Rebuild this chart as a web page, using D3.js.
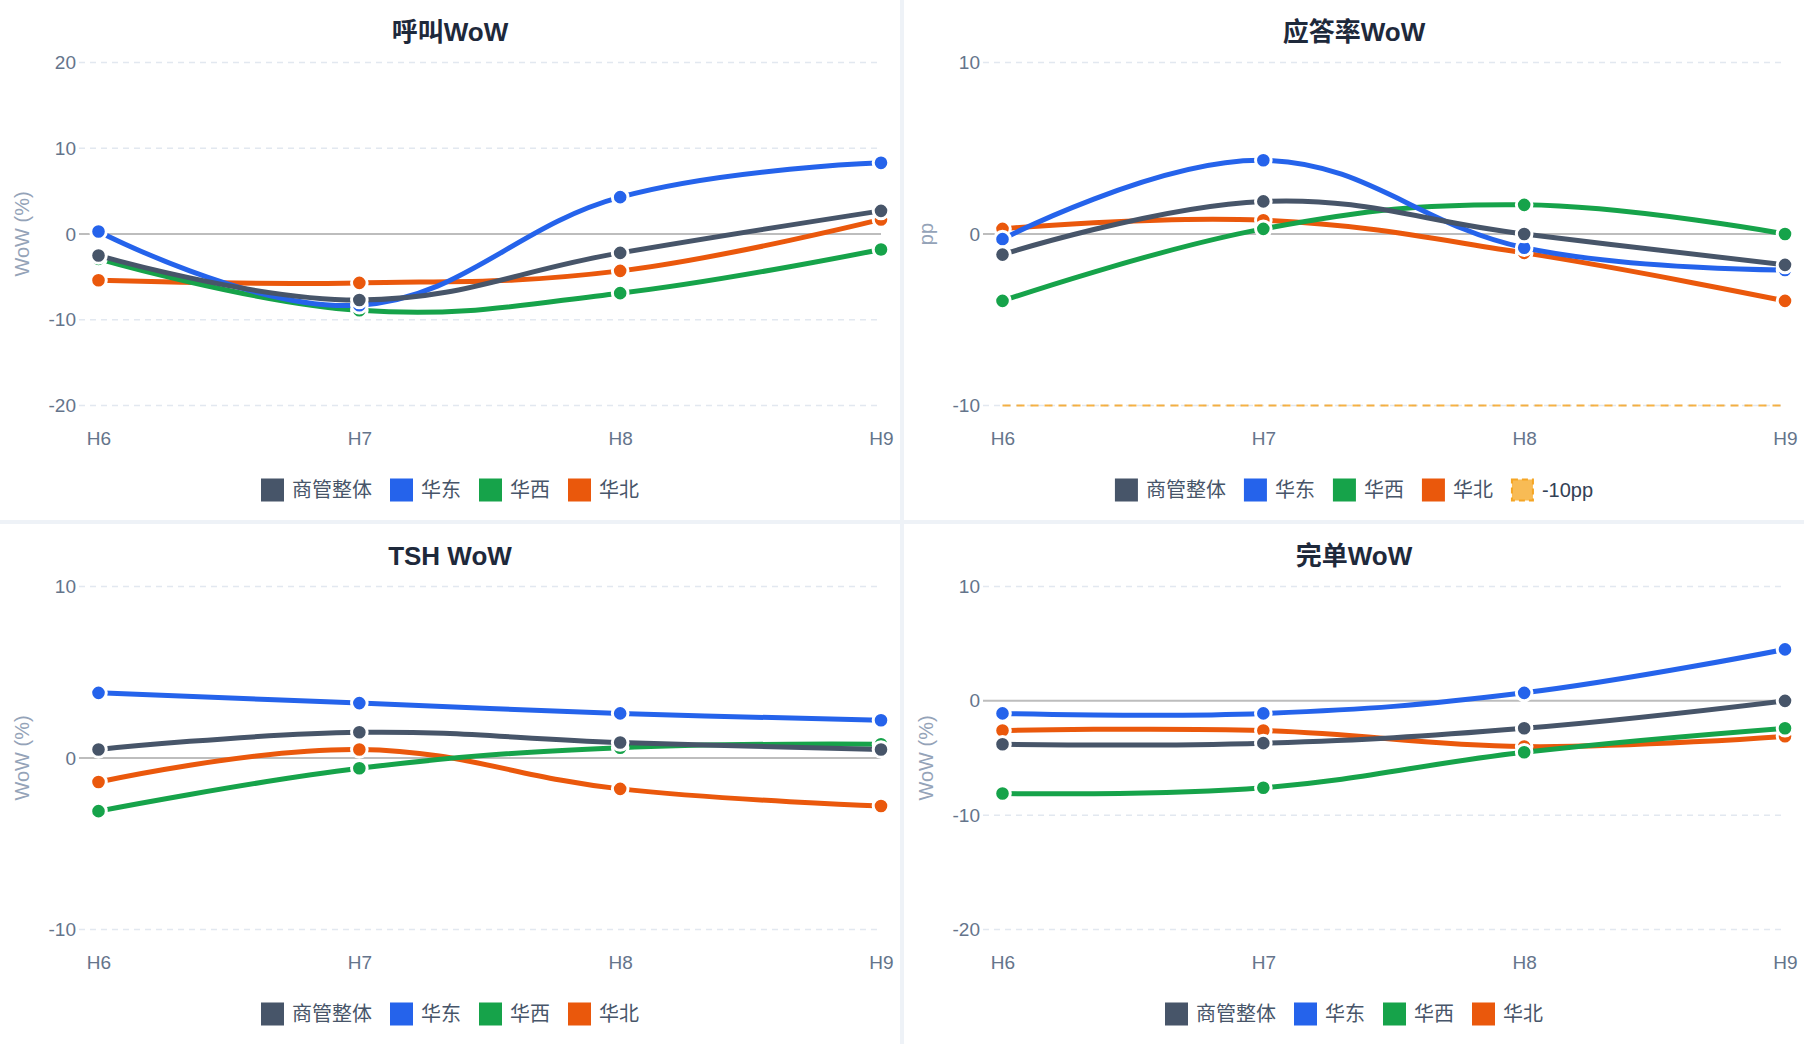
<!doctype html>
<html lang="zh">
<head>
<meta charset="utf-8">
<title>WoW dashboard</title>
<script src="https://d3js.org/d3.v7.min.js"></script>
<style>
  html, body { margin: 0; padding: 0; background: #eef2f7; }
  svg { display: block; }
  text { font-family: "Liberation Sans", Arial, "Noto Sans CJK SC", sans-serif; }
</style>
</head>
<body>
<div id="chart"></div>
<script>
// categories and series
var categories = ["H6", "H7", "H8", "H9"];
var seriesNames = ["商管整体", "华东", "华西", "华北"];

// 呼叫WoW (%)
var callOverall = [-2.5, -7.7, -2.2, 2.7];
var callEast    = [0.3, -8.3, 4.3, 8.3];
var callWest    = [-2.9, -8.9, -6.9, -1.8];
var callNorth   = [-5.4, -5.7, -4.3, 1.7];

// 应答率WoW (pp)
var answerOverall = [-1.2, 1.9, 0, -1.8];
var answerEast    = [-0.3, 4.3, -0.8, -2.1];
var answerWest    = [-3.9, 0.3, 1.7, 0];
var answerNorth   = [0.3, 0.8, -1.1, -3.9];
var answerThreshold = -10;

// TSH WoW (%)
var tshOverall = [0.5, 1.5, 0.9, 0.5];
var tshEast    = [3.8, 3.2, 2.6, 2.2];
var tshWest    = [-3.1, -0.6, 0.6, 0.8];
var tshNorth   = [-1.4, 0.5, -1.8, -2.8];

// 完单WoW (%)
var doneOverall = [-3.8, -3.7, -2.4, 0];
var doneEast    = [-1.1, -1.1, 0.7, 4.5];
var doneWest    = [-8.1, -7.6, -4.5, -2.4];
var doneNorth   = [-2.6, -2.6, -4.0, -3.1];

// axis ticks per panel
var callTicks = [-20, -10, 0, 10, 20];
var answerTicks = [-10, 0, 10];
var tshTicks = [-10, 0, 10];
var doneTicks = [-20, -10, 0, 10];

var colors = ["#475569", "#2563eb", "#16a34a", "#ea580c"];

var width = 1804, height = 1044;
var panelW = 900, panelH = 520;

var svg = d3.select('#chart').append('svg')
  .attr('width', width).attr('height', height);

svg.append('rect').attr('width', width).attr('height', height).attr('fill', '#eef2f7');

var panels = [
  {x: 0,   y: 0,   title: '呼叫WoW',  yLabel: 'WoW (%)', ticks: callTicks,
   values: [callOverall, callEast, callWest, callNorth]},
  {x: 904, y: 0,   title: '应答率WoW', yLabel: 'pp', ticks: answerTicks,
   values: [answerOverall, answerEast, answerWest, answerNorth], threshold: answerThreshold},
  {x: 0,   y: 524, title: 'TSH WoW',  yLabel: 'WoW (%)', ticks: tshTicks,
   values: [tshOverall, tshEast, tshWest, tshNorth]},
  {x: 904, y: 524, title: '完单WoW',  yLabel: 'WoW (%)', ticks: doneTicks,
   values: [doneOverall, doneEast, doneWest, doneNorth]}
];

// plain hyphen for negatives, like the original
var fmt = function(d) { return String(d); };

panels.forEach(function(p) {
  var g = svg.append('g').attr('transform', 'translate(' + p.x + ',' + p.y + ')');
  g.append('rect').attr('width', panelW).attr('height', panelH).attr('fill', '#fff');

  var x = d3.scalePoint().domain(categories).range([98.5, 881]);
  var y = d3.scaleLinear().domain(d3.extent(p.ticks)).range([405.5, 62.5]);
  var gridLeft = 79, gridRight = 881;

  // title
  g.append('text')
    .attr('x', panelW / 2).attr('y', 32)
    .attr('text-anchor', 'middle').attr('dominant-baseline', 'central')
    .style('font-size', '26px').style('font-weight', 'bold').style('fill', '#1e293b')
    .text(p.title);

  // y axis title
  g.append('text')
    .attr('transform', 'translate(22,' + y(0.5 * (p.ticks[0] + p.ticks[p.ticks.length - 1])) + ') rotate(-90)')
    .attr('text-anchor', 'middle').attr('dominant-baseline', 'central')
    .style('font-size', '20px').style('fill', '#94a3b8')
    .text(p.yLabel);

  // dashed grid
  g.selectAll('.grid').data(p.ticks.filter(function(t) { return t !== 0; }))
    .enter().append('line')
    .attr('x1', gridLeft).attr('x2', gridRight)
    .attr('y1', function(d) { return y(d); }).attr('y2', function(d) { return y(d); })
    .attr('stroke', '#e2e8f0').attr('stroke-width', 1.5).attr('stroke-dasharray', '6,5');

  // zero line
  g.append('line').attr('x1', gridLeft).attr('x2', gridRight).attr('y1', y(0)).attr('y2', y(0))
    .attr('stroke', '#bdbdbd').attr('stroke-width', 2);

  // y axis labels
  var yAxis = g.append('g').attr('transform', 'translate(' + gridLeft + ',0)')
    .call(d3.axisLeft(y).tickValues(p.ticks).tickFormat(fmt).tickSize(0).tickPadding(3));
  yAxis.select('.domain').remove();
  yAxis.selectAll('text').style('font-size', '19px').style('fill', '#64748b')
    .style('font-family', '"Liberation Sans", Arial, sans-serif');

  // x axis labels
  var xAxis = g.append('g').attr('transform', 'translate(0,406)')
    .call(d3.axisBottom(x).tickSize(0).tickPadding(26));
  xAxis.select('.domain').remove();
  xAxis.selectAll('text').style('font-size', '19px').style('fill', '#64748b')
    .style('font-family', '"Liberation Sans", Arial, sans-serif');

  // threshold line
  if (p.threshold !== undefined) {
    g.append('line')
      .attr('x1', x(categories[0])).attr('x2', x(categories[categories.length - 1]))
      .attr('y1', y(p.threshold)).attr('y2', y(p.threshold))
      .attr('stroke', '#f5a524').attr('stroke-opacity', 0.85)
      .attr('stroke-width', 2).attr('stroke-dasharray', '8,6');
  }

  // series, drawn last-first so 商管整体 ends up on top
  var line = d3.line()
    .x(function(d, i) { return x(categories[i]); })
    .y(function(d) { return y(d); })
    .curve(d3.curveCardinal.tension(-0.2));

  for (var s = p.values.length - 1; s >= 0; s--) {
    var sg = g.append('g');
    sg.append('path').datum(p.values[s])
      .attr('d', line).attr('fill', 'none')
      .attr('stroke', colors[s]).attr('stroke-width', 5);
    sg.selectAll('circle').data(p.values[s]).enter().append('circle')
      .attr('cx', function(d, i) { return x(categories[i]); })
      .attr('cy', function(d) { return y(d); })
      .attr('r', 7.8)
      .attr('fill', colors[s]).attr('stroke', '#fff').attr('stroke-width', 3);
  }

  // legend
  var items = seriesNames.map(function(n, i) { return {name: n, color: colors[i]}; });
  if (p.threshold !== undefined) items.push({name: '-10pp', threshold: true});
  var leg = g.append('g');
  var cx = 0;
  items.forEach(function(it) {
    var ig = leg.append('g').attr('transform', 'translate(' + cx + ',0)');
    if (it.threshold) {
      ig.append('rect').attr('x', 1).attr('y', -10.5).attr('width', 21).attr('height', 21)
        .attr('fill', '#f8bb55').attr('stroke', '#f5a524').attr('stroke-width', 2)
        .attr('stroke-dasharray', '6,4');
    } else {
      ig.append('rect').attr('x', 0).attr('y', -11.5).attr('width', 23).attr('height', 23)
        .attr('fill', it.color);
    }
    var t = ig.append('text').attr('x', 31).attr('y', 0)
      .attr('dominant-baseline', 'central')
      .style('font-size', '20px').style('fill', it.threshold ? '#334155' : '#475569')
      .text(it.name);
    cx += 31 + t.node().getComputedTextLength() + 18;
  });
  var legW = cx - 18;
  leg.attr('transform', 'translate(' + (panelW / 2 - legW / 2) + ',490)');
});
</script>
</body>
</html>
